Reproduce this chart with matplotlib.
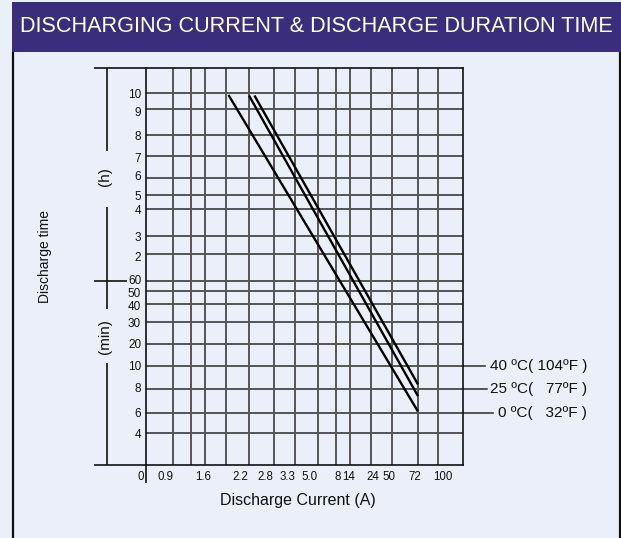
import numpy as np
import matplotlib
matplotlib.use('Agg')
import matplotlib.pyplot as plt
from matplotlib.lines import Line2D
from matplotlib.patches import Rectangle
from matplotlib.transforms import ScaledTranslation

plt.rcParams['font.family'] = ['Liberation Sans', 'DejaVu Sans']

# ---------------- data ----------------
title = 'DISCHARGING CURRENT & DISCHARGE DURATION TIME'
x_label = 'Discharge Current (A)'
y_label = 'Discharge time'
current_ticks = [0, 0.9, 1.6, 2.2, 2.8, 3.3, 5.0, 8, 14, 24, 50, 72, 100]
current_tick_labels = ['0', '0.9', '1.6', '2.2', '2.8', '3.3', '5.0', '8', '14', '24', '50', '72', '100']
time_ticks_min = [600, 540, 480, 420, 360, 300, 240, 180, 120, 60, 50, 40, 30, 20, 10, 8, 6, 4]
time_tick_labels = ['10', '9', '8', '7', '6', '5', '4', '3', '2', '60', '50', '40', '30', '20', '10', '8', '6', '4']
series_names = ['40 ºC( 104ºF )', '25 ºC(   77ºF )', '0 ºC(   32ºF )']
current_40c = [2.33, 72]
time_40c_min = [590, 8.4]
current_25c = [2.2, 72]
time_25c_min = [590, 7.4]
current_0c = [1.92, 72]
time_0c_min = [592, 6.1]
legend_anchor_min = [10, 8, 6]

# ---------------- layout (pixels) ----------------
W, H = 621, 538
AX_L, AX_R, AX_T, AX_B = 146, 463, 68, 465
x_tick_px = [146, 173, 205, 249, 274, 295, 318, 336, 350, 371, 392, 418, 438]
x_label_dx = [-5, -8, -2, -9, -9, -8, -8, 2, -1, 2, -3, -3, 5]
v_grid_px = [173, 191, 205, 226, 249, 274, 295, 318, 336, 350, 371, 392, 418, 438]
y_tick_px = [92.7, 109.3, 135.3, 156.3, 177.7, 194.7, 208.7, 236, 254.3, 280.7,
             290.7, 303.7, 321.7, 344, 366.3, 389, 412.7, 433.3]
y_label_dy = [0.5, 2, 0.5, 1, -2.5, 1, 1, 0.5, 2, -1, 1.5, 1.5, 1, -1, -1, -1.5, 0, 0.5]
leader_end_px = [485, 487, 493]
legend_right_px = 587

BG = '#ebeff9'
HEAD = '#3a2e7c'
INK = '#111111'


def piecewise(xs, ys):
    xs = np.asarray(xs, float)
    ys = np.asarray(ys, float)

    def f(v):
        v = np.asarray(v, float)
        out = np.interp(v, xs, ys)
        lo_s = (ys[1] - ys[0]) / (xs[1] - xs[0])
        hi_s = (ys[-1] - ys[-2]) / (xs[-1] - xs[-2])
        out = np.where(v < xs[0], ys[0] + (v - xs[0]) * lo_s, out)
        out = np.where(v > xs[-1], ys[-1] + (v - xs[-1]) * hi_s, out)
        return out
    return f


# x scale: value -> pixel offset
xv = np.array(current_ticks, float)
xp = np.array(x_tick_px, float) - AX_L
x_fwd = piecewise(xv, xp)
x_inv = piecewise(xp, xv)

# y scale: minutes -> height above bottom
order = np.argsort(time_ticks_min)
yv = np.array(time_ticks_min, float)[order]
yp = (AX_B - np.array(y_tick_px, float))[order]
y_fwd = piecewise(yv, yp)
y_inv = piecewise(yp, yv)

fig = plt.figure(figsize=(W / 100, H / 100), dpi=100, facecolor=BG)


def fxy(x, y):
    return x / W, 1 - y / H


def fig_line(x1, y1, x2, y2, lw=1.2, color=INK):
    a = fxy(x1, y1)
    b = fxy(x2, y2)
    fig.add_artist(Line2D([a[0], b[0]], [a[1], b[1]], transform=fig.transFigure,
                          color=color, lw=lw, solid_capstyle='butt'))


# header
fig.add_artist(Rectangle(fxy(12, 52), (W - 12) / W, 50 / H, transform=fig.transFigure,
                         facecolor=HEAD, edgecolor='none'))
ht = fig.text(20 / W, 1 - 27 / H, title, color='white', fontsize=21, va='center', ha='left',
              family=['Liberation Sans Narrow', 'Liberation Sans'])
fig.canvas.draw()
w = ht.get_window_extent().width
ht.set_fontsize(21 * 592 / w)

# frame borders
fig_line(13, 52, 13, H, lw=1.6)
fig_line(620, 52, 620, H, lw=1.6)

ax = fig.add_axes([AX_L / W, 1 - AX_B / H, (AX_R - AX_L) / W, (AX_B - AX_T) / H])
ax.set_facecolor(BG)
ax.set_xscale('function', functions=(x_fwd, x_inv))
ax.set_yscale('function', functions=(y_fwd, y_inv))
ax.set_xlim(0, float(x_inv(AX_R - AX_L)))
ax.set_ylim(float(y_inv(0)), float(y_inv(AX_B - AX_T)))

# grid
for m in time_ticks_min:
    ax.axhline(m, color='#2a2a2a', lw=1.1, zorder=1)
for px in v_grid_px:
    f = (px - AX_L) / (AX_R - AX_L)
    ax.plot([f, f], [0, 1], transform=ax.transAxes, color='#555555', lw=1.4, zorder=1)

# curves
for cx, cy in [(current_40c, time_40c_min), (current_25c, time_25c_min), (current_0c, time_0c_min)]:
    ax.plot(cx, cy, color='black', lw=1.7, zorder=3, solid_capstyle='butt')

# leader lines and series labels
for name, m, endpx in zip(series_names, legend_anchor_min, leader_end_px):
    ef = (endpx - AX_L) / (AX_R - AX_L)
    ax.plot([1.0, ef], [m, m], transform=ax.get_yaxis_transform(), clip_on=False,
            color='#2a2a2a', lw=1.1)
    ax.text((legend_right_px - AX_L) / (AX_R - AX_L), m, name, transform=ax.get_yaxis_transform(),
            ha='right', va='center', fontsize=11, color=INK)

# ticks
ax.set_yticks(time_ticks_min, time_tick_labels)
ax.set_xticks(current_ticks, current_tick_labels)
ax.minorticks_off()
ax.tick_params(axis='y', length=0, pad=3.5, labelsize=8.5, labelcolor=INK)
ax.tick_params(axis='x', length=0, pad=4, labelsize=8.3, labelcolor=INK)
ax.xaxis.get_major_ticks()
ax.yaxis.get_major_ticks()
for lab, dx in zip(ax.get_xticklabels(), x_label_dx):
    lab.set_transform(lab.get_transform() + ScaledTranslation(dx / 100, 0, fig.dpi_scale_trans))
for lab, dy in zip(ax.get_yticklabels(), y_label_dy):
    lab.set_transform(lab.get_transform() + ScaledTranslation(0, -dy / 100, fig.dpi_scale_trans))

for s in ax.spines.values():
    s.set_color(INK)
    s.set_linewidth(1.2)

# extensions outside the plot
fig_line(94, AX_T, AX_L, AX_T)
fig_line(94, AX_B, AX_L, AX_B)
fig_line(AX_L, AX_B, AX_L, 483)
fig_line(94, 280.7, 127, 280.7)
fig_line(107, AX_T, 107, 150.7)
fig_line(107, 206.7, 107, 309)
fig_line(107, 363, 107, AX_B)

fig.text(105 / W, 1 - 177 / H, '(h)', rotation=90, ha='center', va='center', fontsize=11, color=INK)
fig.text(105 / W, 1 - 337 / H, '(min)', rotation=90, ha='center', va='center', fontsize=11, color=INK)
fig.text(45 / W, 1 - 257 / H, y_label, rotation=90, ha='center', va='center', fontsize=10, color=INK)
fig.text(298 / W, 1 - 500 / H, x_label, ha='center', va='center', fontsize=11.5, color=INK)

fig.savefig('out.png', dpi=100, facecolor=BG)
